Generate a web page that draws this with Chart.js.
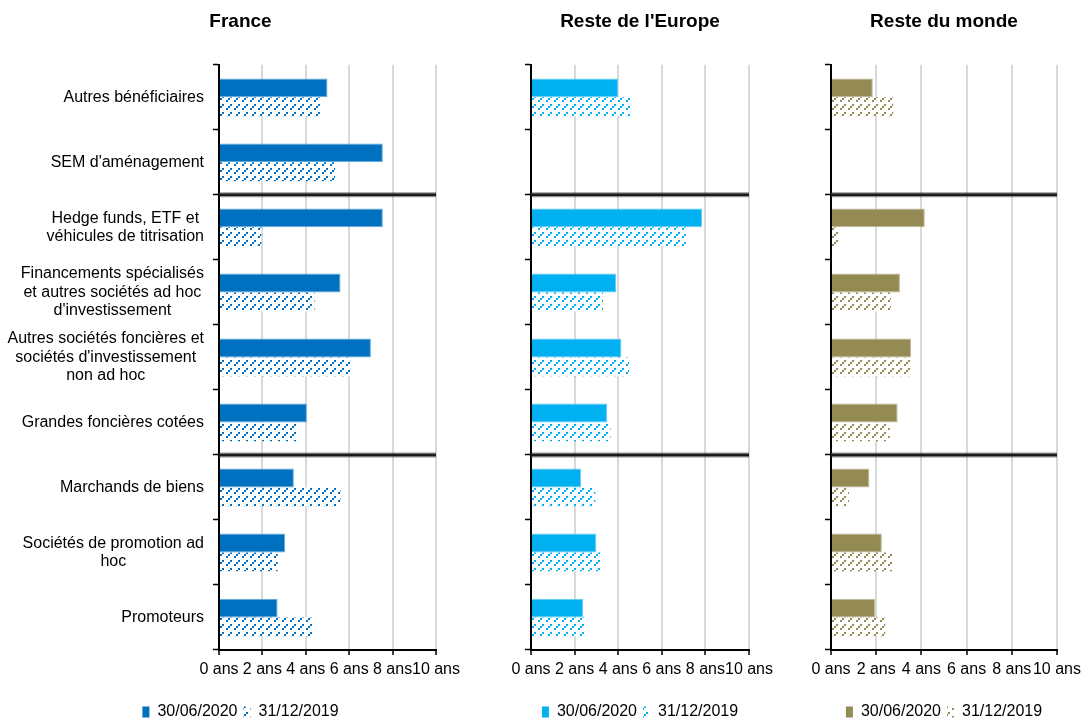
<!DOCTYPE html>
<html><head><meta charset="utf-8">
<script src="https://cdn.jsdelivr.net/npm/chart.js@4.4.1/dist/chart.umd.min.js"></script>
<style>
html,body{margin:0;padding:0;background:#fff;width:1086px;height:722px;overflow:hidden;position:relative}
.p{position:absolute;top:0;height:722px}
</style></head><body>
<div class="p" style="left:0;width:470px"><canvas id="c0"></canvas></div>
<div class="p" style="left:480px;width:300px"><canvas id="c1"></canvas></div>
<div class="p" style="left:790px;width:296px"><canvas id="c2"></canvas></div>
<script>
// ---- data ----
const categories = [
  'Autres bénéficiaires',
  "SEM d'aménagement",
  ['Hedge funds, ETF et', 'véhicules de titrisation'],
  ['Financements spécialisés', 'et autres sociétés ad hoc', "d'investissement"],
  ['Autres sociétés foncières et', "sociétés d'investissement", 'non ad hoc'],
  'Grandes foncières cotées',
  'Marchands de biens',
  ['Sociétés de promotion ad', 'hoc'],
  'Promoteurs'
];
const panelTitles = ['France', "Reste de l'Europe", 'Reste du monde'];
const seriesLabels = ['30/06/2020', '31/12/2019'];
const xTickLabels = ['0 ans', '2 ans', '4 ans', '6 ans', '8 ans', '10 ans'];
const groupBreaks = [1, 5];

const franceJun2020 = [5.0, 7.55, 7.55, 5.6, 7.0, 4.05, 3.45, 3.05, 2.7];
const franceDec2019 = [4.65, 5.35, 1.95, 4.4, 6.05, 3.55, 5.6, 2.7, 4.35];
const europeJun2020 = [4.0, null, 7.85, 3.9, 4.15, 3.5, 2.3, 3.0, 2.4];
const europeDec2019 = [4.55, null, 7.1, 3.3, 4.5, 3.65, 2.95, 3.25, 2.5];
const mondeJun2020  = [1.85, null, 4.15, 3.05, 3.55, 2.95, 1.7, 2.25, 1.95];
const mondeDec2019  = [2.75, null, 0.4, 2.65, 3.55, 2.6, 0.8, 2.7, 2.4];

Chart.defaults.font.family = "'Liberation Sans', Arial, sans-serif";
Chart.defaults.color = '#000';

function hatch(color) {
  const c = document.createElement('canvas');
  c.width = 8; c.height = 8;
  const g = c.getContext('2d');
  g.fillStyle = '#fff'; g.fillRect(0, 0, 8, 8);
  g.fillStyle = color;
  [[6,0],[4,2],[2,4]].forEach(([x,y]) => g.fillRect(x, y, 2, 2));
  return g.createPattern(c, 'repeat');
}

const separatorPlugin = {
  id: 'separators',
  afterDatasetsDraw(chart) {
    const {ctx, chartArea, scales: {y}} = chart;
    groupBreaks.forEach(b => {
      const yy = (y.getPixelForValue(b) + y.getPixelForValue(b + 1)) / 2;
      ctx.save();
      ctx.beginPath(); ctx.moveTo(chartArea.left, yy); ctx.lineTo(chartArea.right, yy);
      ctx.strokeStyle = 'rgba(60,60,60,0.55)'; ctx.lineWidth = 5; ctx.stroke();
      ctx.beginPath(); ctx.moveTo(chartArea.left, yy); ctx.lineTo(chartArea.right, yy);
      ctx.strokeStyle = '#1a1a1a'; ctx.lineWidth = 2.5; ctx.stroke();
      ctx.restore();
    });
  }
};

const categoryLabelPlugin = {
  id: 'catLabels',
  afterDraw(chart) {
    const {ctx, chartArea, scales: {y}} = chart;
    ctx.save();
    ctx.font = "16px 'Liberation Sans', Arial, sans-serif";
    ctx.fillStyle = '#000';
    ctx.textAlign = 'center';
    ctx.textBaseline = 'middle';
    const lh = 18.4;
    chart.data.labels.forEach((lab, i) => {
      const lines = Array.isArray(lab) ? lab : [lab];
      const maxW = Math.max(...lines.map(l => ctx.measureText(l).width));
      const cx = chartArea.left - 15 - maxW / 2;
      const cy = y.getPixelForValue(i);
      lines.forEach((l, j) => ctx.fillText(l, cx, cy + (j - (lines.length - 1) / 2) * lh));
    });
    ctx.restore();
  }
};

function makeChart(id, title, jun, dec, color, edge, pad, yWidth, withLabels) {
  const pat = hatch(color);
  return new Chart(document.getElementById(id), {
    type: 'bar',
    data: {
      labels: categories,
      datasets: [
        {label: seriesLabels[0], data: jun, backgroundColor: color, borderColor: edge, borderWidth: 1,
         categoryPercentage: 0.58, barPercentage: 1},
        {label: seriesLabels[1], data: dec, backgroundColor: pat, categoryPercentage: 0.58, barPercentage: 1}
      ]
    },
    options: {
      indexAxis: 'y',
      responsive: true,
      maintainAspectRatio: false,
      animation: false,
      layout: {padding: {left: pad[0], right: pad[1], top: 10, bottom: -8}},
      plugins: {
        title: {display: true, text: title, color: '#000', font: {size: 19, weight: 'bold'}, padding: {top: 0, bottom: 32}},
        legend: {
          position: 'bottom',
          labels: {
            boxWidth: 7, boxHeight: 11, padding: 6, color: '#000', font: {size: 16},
            generateLabels: (ch) => ch.data.datasets.map((ds, i) => ({
              text: ds.label, fillStyle: ds.backgroundColor, strokeStyle: 'rgba(0,0,0,0)',
              lineWidth: 0, hidden: false, datasetIndex: i, fontColor: '#000'
            }))
          }
        },
        tooltip: {enabled: false}
      },
      scales: {
        x: {
          min: 0, max: 10,
          ticks: {stepSize: 2, autoSkip: false, maxRotation: 0, padding: 5, font: {size: 16}, color: '#000',
                  callback: (v) => xTickLabels[Math.round(v / 2)]},
          grid: {color: '#d9d9d9', lineWidth: 2, tickColor: '#000', tickLength: 5, tickWidth: 1.5},
          border: {color: '#000', width: 2},
          afterFit: (s) => { s.height = 48; }
        },
        y: {
          ticks: {display: false},
          grid: {drawOnChartArea: false, tickColor: '#000', tickLength: 6, tickWidth: 1.5},
          border: {color: '#000', width: 2},
          afterFit: (s) => { s.width = yWidth; }
        }
      }
    },
    plugins: withLabels ? [separatorPlugin, categoryLabelPlugin] : [separatorPlugin]
  });
}

makeChart('c0', panelTitles[0], franceJun2020, franceDec2019, '#0070c0', '#66a9d9', [45, 34], 174, true);
makeChart('c1', panelTitles[1], europeJun2020, europeDec2019, '#00b0f0', '#66d0f6', [51, 31], 0, false);
makeChart('c2', panelTitles[2], mondeJun2020, mondeDec2019, '#948a54', '#bfb998', [41, 29], 0, false);
</script>
</body></html>
